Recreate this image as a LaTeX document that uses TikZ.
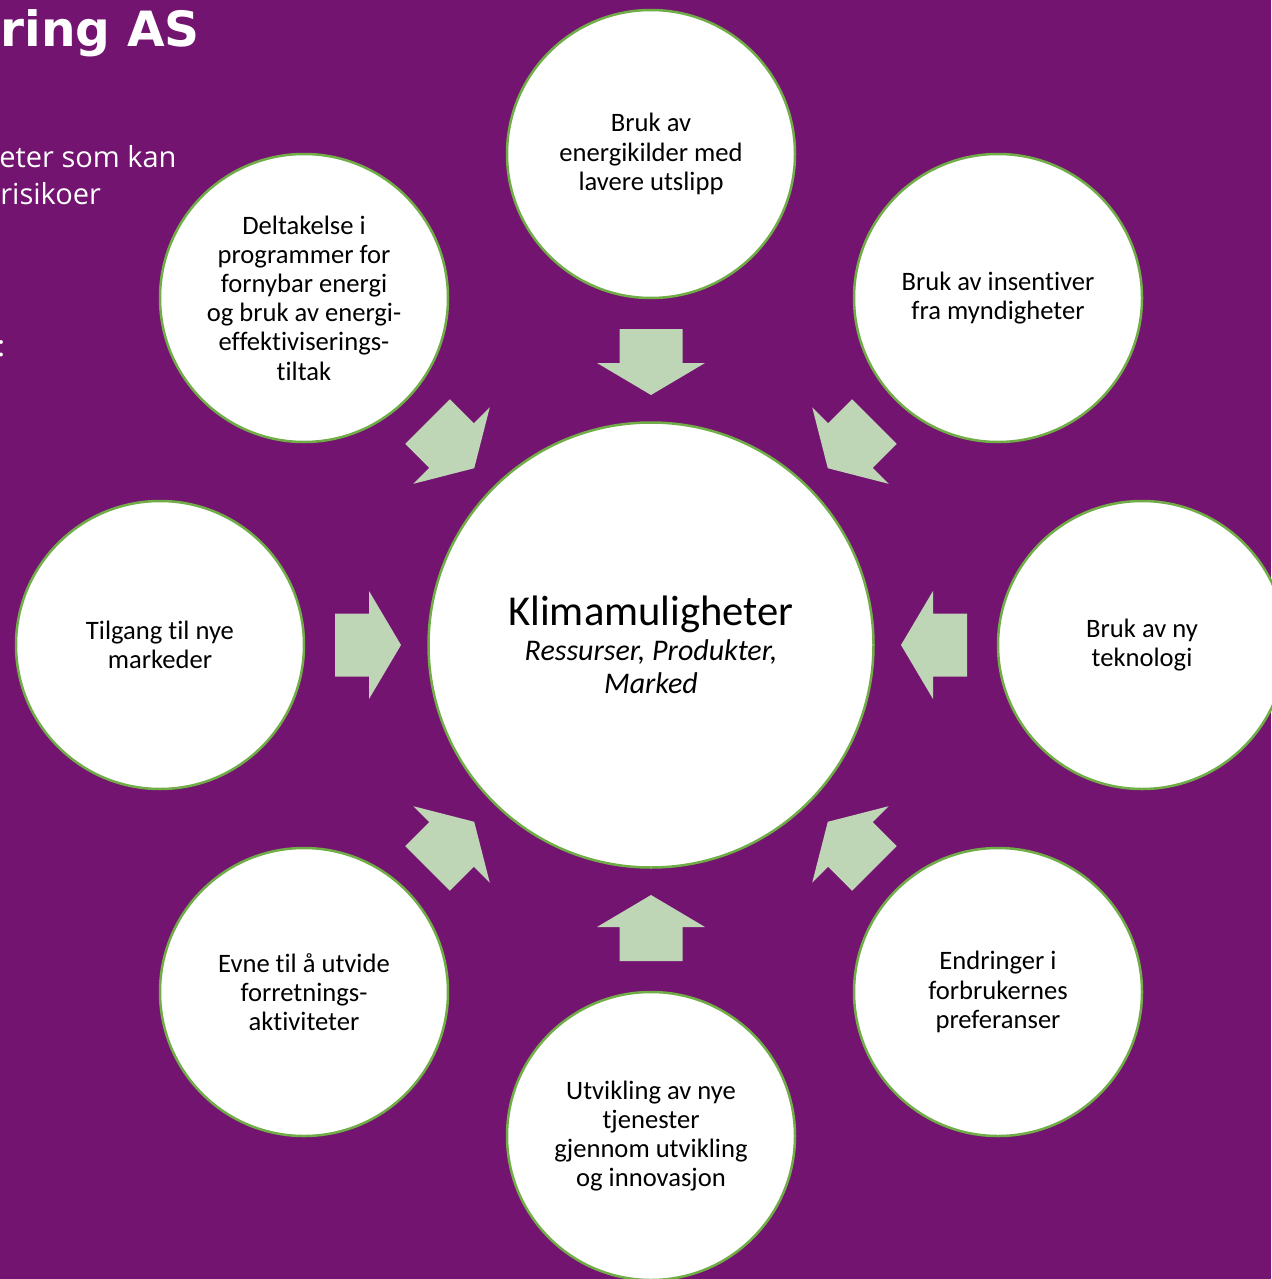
\documentclass[tikz,border=0pt]{standalone}
\usepackage{fontspec}
\setmainfont{Carlito}[Ligatures=NoCommon]
\newfontfamily\headfont{DejaVu Sans}
\newfontfamily\bodyfont{Open Sans}
\usepackage{tikz}
\usetikzlibrary{positioning}
\definecolor{bgpurple}{RGB}{115,20,112}
\definecolor{ringgreen}{RGB}{112,173,71}
\definecolor{arrowgreen}{RGB}{190,214,181}

\begin{document}
\begin{tikzpicture}[x=0.5pt,y=-0.5pt,
  bubble/.style={circle,draw=ringgreen,line width=1.25pt,fill=white,minimum size=144pt,inner sep=0pt,
    align=center,text=black,font=\fontsize{13.3}{14.6}\selectfont},
  hubstyle/.style={bubble,minimum size=222.5pt,font=\fontsize{15}{16.5}\selectfont\itshape},
  blockarrow/.style={fill=arrowgreen},
  sidetext/.style={anchor=base west,inner sep=0pt,text=white}]
  \useasboundingbox (0,0) rectangle (1271,1279);
  \fill[bgpurple] (0,0) rectangle (1271,1279);

  % text cut off at the left edge
  \node[sidetext,font=\headfont\bfseries\fontsize{24.3}{28}\selectfont] (title) at (0,47) {ring AS};
  \node[sidetext,font=\bodyfont\fontsize{14.5}{18}\selectfont] (txt1) at (-1,168) {eter som kan};
  \node[sidetext,font=\bodyfont\fontsize{14.5}{18}\selectfont] (txt2) at (0,204) {risikoer};
  \node[sidetext,font=\bodyfont\fontsize{14.5}{18}\selectfont] (txt3) at (-3,356) {:};

  % centre
  \node[hubstyle] (hub) at (651,645) {{\upshape\fontsize{21.3}{24}\selectfont Klimamuligheter}\\[1pt]
    Ressurser, Produkter,\\Marked};

  % block arrows pointing in
  \foreach \a in {0,45,...,315} {
    \fill[blockarrow,shift={(hub.center)},rotate=\a]
      (316,-31.5) -- (282,-31.5) -- (282,-54) -- (250,0) -- (282,54) -- (282,31.5) -- (316,31.5) -- cycle;
  }

  % outer circles
  \node[bubble] (top) at (651,154) {Bruk av\\energikilder med\\lavere utslipp};
  \node[bubble] (topright) at (998,298) {Bruk av insentiver\\fra myndigheter};
  \node[bubble] (right) at (1142,645) {Bruk av ny\\teknologi};
  \node[bubble] (botright) at (998,992) {Endringer i\\forbrukernes\\preferanser};
  \node[bubble] (bot) at (651,1136) {Utvikling av nye\\tjenester\\gjennom utvikling\\og innovasjon};
  \node[bubble] (botleft) at (304,992) {Evne til å utvide\\forretnings-\\aktiviteter};
  \node[bubble] (left) at (160,645) {Tilgang til nye\\markeder};
  \node[bubble] (topleft) at (304,298) {Deltakelse i\\programmer for\\fornybar energi\\og bruk av energi-\\effektiviserings-\\tiltak};
\end{tikzpicture}
\end{document}
